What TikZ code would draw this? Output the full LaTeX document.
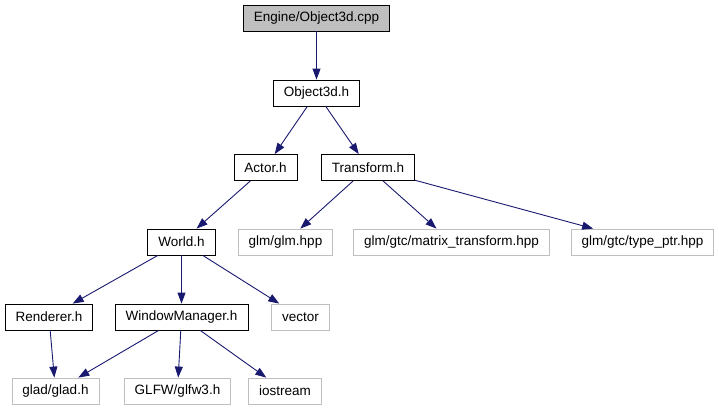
\documentclass[tikz,border=0pt]{standalone}
\usepackage{fontspec}
\setmainfont{Liberation Sans}
\usetikzlibrary{arrows.meta}

\definecolor{edgeblue}{RGB}{25,25,112}
\definecolor{grey75}{RGB}{191,191,191}

\begin{document}
\begin{tikzpicture}[
    x=1pt, y=-1pt,
    font=\fontsize{13.5}{15}\selectfont,
    file/.style={draw=black, line width=0.8pt, fill=white, inner xsep=10.5pt,
                 inner ysep=0pt, minimum height=26pt},
    root/.style={file, fill=grey75},             % the file the graph is about
    extfile/.style={file, draw=grey75},          % system / library headers
    dep/.style={draw=edgeblue, line width=0.9pt,
                -{Triangle[length=11pt, width=8pt]}}
  ]

% canvas, same size as the reference
    \useasboundingbox (0,0) rectangle (719,411);

% --- rows 1-3: the source file and its direct headers ---
    \node[root] (cpp)       at (316.5,18)  {Engine/Object3d.cpp};
    \node[file] (object3d)  at (316.5,93)  {Object3d.h};
    \node[file] (actor)     at (265.5,167.5) {Actor.h};
    \node[file] (transform) at (368,167.5) {Transform.h};

% --- row 4 ---
    \node[file]    (world)    at (181.5,242) {World.h};
    \node[extfile] (glm)      at (285.5,242) {glm/glm.hpp};
    \node[extfile] (matrixtr) at (451.5,242) {glm/gtc/matrix\_transform.hpp};
    \node[extfile] (typeptr)  at (642.5,242) {glm/gtc/type\_ptr.hpp};

% --- row 5 ---
    \node[file]    (renderer) at (49,317)    {Renderer.h};
    \node[file]    (winmgr)   at (181.5,317) {WindowManager.h};
    \node[extfile] (vector)   at (300.5,317) {vector};

% --- row 6 ---
    \node[extfile] (glad)     at (55.5,391)  {glad/glad.h};
    \node[extfile] (glfw)     at (177.5,391) {GLFW/glfw3.h};
    \node[extfile] (iostream) at (285,391)   {iostream};

% --- include edges ---
    \draw[dep] (cpp) -- (object3d);
    \draw[dep] (object3d) -- (actor);
    \draw[dep] (object3d) -- (transform);
    \draw[dep] (actor) -- (world);
    \draw[dep] (transform) -- (glm);
    \draw[dep] (transform) -- (matrixtr);
    \draw[dep] (transform) -- (typeptr);
    \draw[dep] (world) -- (renderer);
    \draw[dep] (world) -- (winmgr);
    \draw[dep] (world) -- (vector);
    \draw[dep] (renderer) -- (glad);
    \draw[dep] (winmgr) -- (glad);
    \draw[dep] (winmgr) -- (glfw);
    \draw[dep] (winmgr) -- (iostream);

  \end{tikzpicture}
\end{document}
